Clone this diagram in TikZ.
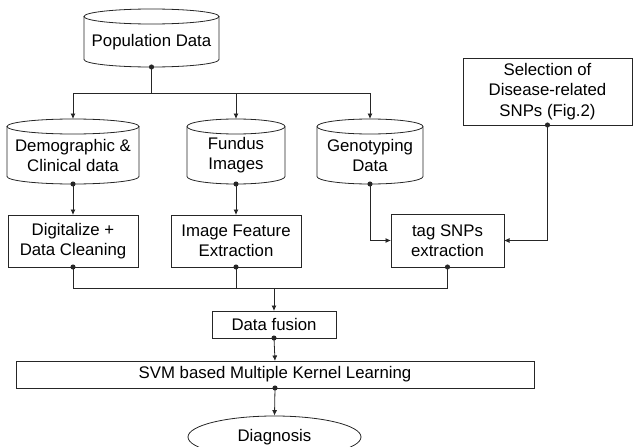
\documentclass[tikz,border=0pt]{standalone}
\usepackage{fontspec}
\setmainfont{Liberation Sans}
\usetikzlibrary{arrows.meta,shapes.geometric}
\tikzset{
  ln/.style={line width=0.8pt, draw=black!85},
  lbl/.style={align=center, inner sep=0pt, font=\fontsize{16.8}{20.5}\selectfont},
  box/.style={ln, lbl, rectangle, outer sep=0pt},
  cylbox/.style={rectangle, outer sep=0pt, inner sep=0pt, draw=none},
  arr/.style={ln, -{Latex[length=5.5pt,width=5pt]}},
  darr/.style={ln, {Circle[length=5pt]}-{Latex[length=5.5pt,width=5pt]}, shorten <=-2.5pt},
  dln/.style={ln, {Circle[length=5pt]}-, shorten <=-2.5pt},
}
% cylinder: name, x-left, x-right, y-top, y-bottom (pixels, y downwards), text
\newcommand\mkcyl[6]{%
  \pgfmathsetmacro\cylcx{(#2+#3)/2}%
  \pgfmathsetmacro\cylcy{-(#4+#5)/2}%
  \pgfmathsetmacro\cylrx{(#3-#2)/2}%
  \pgfmathsetmacro\cylty{-((#4+15)+(#5-7.5))/2}%
  \node[cylbox, minimum width={#3-#2}, minimum height={#5-#4}] (#1) at (\cylcx,\cylcy) {};
  \node[lbl] (#1-text) at (\cylcx,\cylty) {#6};
  \draw[ln] (\cylcx,-#4-7.5) ellipse [x radius=\cylrx, y radius=7.5];
  \draw[ln] (#2,-#4-7.5) -- (#2,-#5+7.5) arc[start angle=180, end angle=360, x radius=\cylrx, y radius=7.5] -- (#3,-#4-7.5);
}
\begin{document}
\begin{tikzpicture}[x=1pt,y=1pt]
\useasboundingbox (0,0) rectangle (633,-447);
\clip (0,0) rectangle (633,-447);

\mkcyl{pop}{84}{219}{9}{67}{Population Data}
\mkcyl{demo}{7}{139}{119}{184}{Demographic \&\\Clinical data}
\mkcyl{fund}{187}{285}{119}{184}{Fundus\\Images}
\mkcyl{geno}{317}{423}{119}{184}{Genotyping\\Data}

\node[box, minimum width=169, minimum height=67] (sel) at (547.5,-91.5) {Selection of\\Disease-related\\SNPs (Fig.2)};
\node[box, minimum width=130, minimum height=52] (digi) at (73,-241) {Digitalize +\\Data Cleaning};
\node[box, minimum width=130, minimum height=52] (imgf) at (236,-241) {Image Feature\\Extraction};
\node[box, minimum width=113, minimum height=53] (tag) at (447.5,-240.5) {tag SNPs\\extraction};
\node[box, minimum width=124, minimum height=27] (fus) at (274,-324.5) {Data fusion};
\node[box, minimum width=518, minimum height=27] (svm) at (275,-374.5) {SVM based Multiple Kernel Learning};
\node[ln, lbl, ellipse, minimum width=173, minimum height=42] (diag) at (274.5,-437) {Diagnosis};

\coordinate (b) at (151.5,-93);
\coordinate (j) at (274,-288);

\draw[dln] (pop.south) -- (b);
\draw[arr] (b) -| (demo.north);
\draw[arr] (b) -| (fund.north);
\draw[arr] (b) -| (geno.north);

\draw[darr] (demo.south) -- (digi.north);
\draw[darr] (fund.south) -- (imgf.north);
\draw[darr] (geno.south) |- (tag.west);
\draw[darr] (sel.south) |- (tag.east);

\draw[dln] (digi.south) |- (j);
\draw[dln] (imgf.south) |- (j);
\draw[dln] (tag.south) |- (j);
\draw[arr] (j) -- (fus.north);

\draw[darr] (fus.south) -- (svm.north);
\draw[darr] (svm.south) -- (diag.north);
\end{tikzpicture}
\end{document}
